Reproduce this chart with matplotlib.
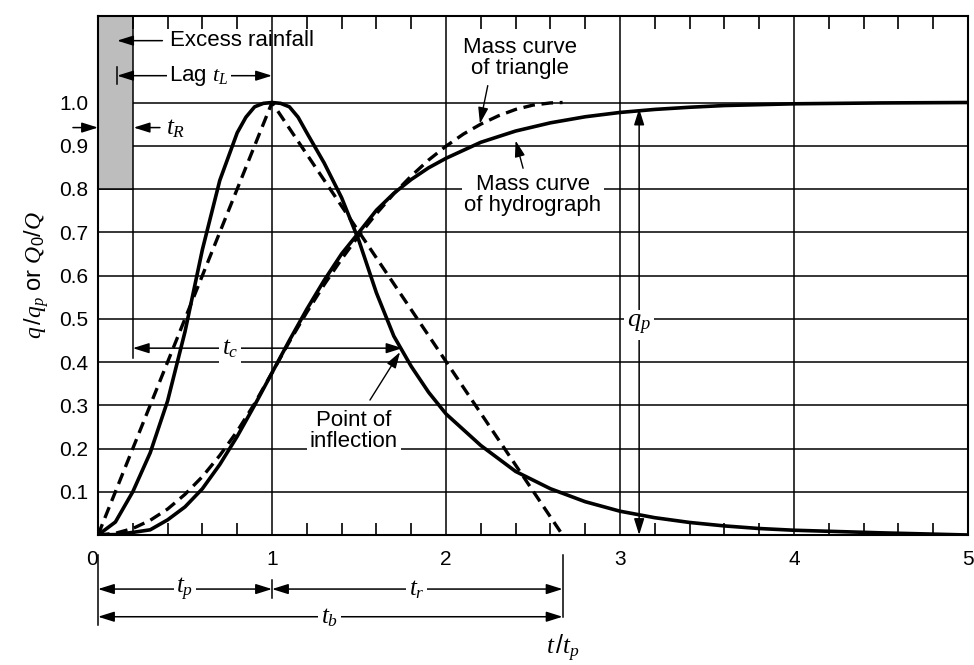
import matplotlib.pyplot as plt
import matplotlib.patches as mpatches

plt.rcParams['font.family'] = ['Liberation Sans', 'DejaVu Sans']
plt.rcParams['mathtext.fontset'] = 'custom'
plt.rcParams['mathtext.it'] = 'Liberation Serif:italic'
plt.rcParams['mathtext.rm'] = 'Liberation Sans'

# dimensionless unit hydrograph (t/tp, q/qp) and its mass curve
t_hyd = [0, 0.1, 0.2, 0.3, 0.4, 0.5, 0.6, 0.7, 0.8, 0.85, 0.9, 0.95, 1.0,
         1.05, 1.1, 1.15, 1.2, 1.3, 1.4, 1.5, 1.6, 1.7, 1.8, 1.9, 2.0, 2.2,
         2.4, 2.6, 2.8, 3.0, 3.2, 3.4, 3.6, 3.8, 4.0, 4.5, 5.0]
q_hyd = [0, 0.03, 0.10, 0.19, 0.31, 0.47, 0.66, 0.82, 0.93, 0.966, 0.99,
         0.998, 1.00, 0.998, 0.99, 0.966, 0.93, 0.86, 0.78, 0.68, 0.56, 0.46,
         0.39, 0.33, 0.28, 0.207, 0.147, 0.107, 0.077, 0.055, 0.040, 0.029,
         0.021, 0.015, 0.011, 0.005, 0.0]
t_mass = [0, 0.1, 0.2, 0.3, 0.4, 0.5, 0.6, 0.7, 0.8, 0.9, 1.0, 1.1, 1.2,
          1.3, 1.4, 1.5, 1.6, 1.7, 1.8, 1.9, 2.0, 2.2, 2.4, 2.6, 2.8, 3.0,
          3.2, 3.4, 3.6, 3.8, 4.0, 4.5, 5.0]
mass_hyd = [0, 0.001, 0.006, 0.012, 0.035, 0.065, 0.107, 0.163, 0.228,
            0.300, 0.375, 0.450, 0.522, 0.589, 0.650, 0.700, 0.751, 0.790,
            0.822, 0.849, 0.871, 0.908, 0.934, 0.953, 0.967, 0.977, 0.984,
            0.989, 0.993, 0.995, 0.997, 0.999, 1.000]

# triangular approximation and its mass curve
t_tri = [0, 1.0, 2.67]
q_tri = [0, 1.0, 0]
t_tri_mass = [0, 0.1, 0.2, 0.3, 0.4, 0.5, 0.6, 0.7, 0.8, 0.9, 1.0, 1.1, 1.2,
              1.3, 1.4, 1.5, 1.6, 1.7, 1.8, 1.9, 2.0, 2.1, 2.2, 2.3, 2.4,
              2.5, 2.6, 2.67]
mass_tri = [0, 0.004, 0.015, 0.034, 0.060, 0.094, 0.135, 0.184, 0.240,
            0.304, 0.375, 0.447, 0.515, 0.579, 0.638, 0.693, 0.743, 0.789,
            0.830, 0.867, 0.899, 0.927, 0.950, 0.969, 0.984, 0.994, 0.999,
            1.000]

x_ticks = [0, 1, 2, 3, 4, 5]
y_ticks = [0.1, 0.2, 0.3, 0.4, 0.5, 0.6, 0.7, 0.8, 0.9, 1.0]
x_minor = [i / 5 for i in range(26) if i % 5 != 0]

fig = plt.figure(figsize=(9.74, 6.65), dpi=100)
ax = fig.add_axes([98 / 974, 1 - 535 / 665, 870 / 974, 519 / 665])
ax.set_xlim(0, 5)
ax.set_ylim(0, 1.2)

for y in y_ticks:
    ax.axhline(y, color='k', lw=1.1, zorder=1)
for x in x_ticks[1:-1]:
    ax.axvline(x, color='k', lw=1.1, zorder=1)

# excess rainfall block
ax.add_patch(mpatches.Rectangle((0, 0.8), 0.2, 0.4, facecolor='#bdbdbd',
                                edgecolor='k', lw=1.1, zorder=1.5))
ax.plot([0.2, 0.2], [0.41, 0.8], color='k', lw=1.1, zorder=1)

ax.plot(t_hyd, q_hyd, color='k', lw=2.6, zorder=6)
ax.plot(t_mass, mass_hyd, color='k', lw=2.6, zorder=6)
ax.plot(t_tri, q_tri, color='k', lw=2.4, dashes=(3.5, 2), zorder=6)
ax.plot(t_tri_mass, mass_tri, color='k', lw=2.4, dashes=(3.5, 2), zorder=6)

ax.set_xticks(x_ticks)
ax.set_xticklabels([str(v) for v in x_ticks])
ax.get_xticklabels()[0].set_horizontalalignment('right')
ax.set_xticks(x_minor, minor=True)
ax.set_yticks(y_ticks)
ax.set_yticklabels(['%.1f' % v for v in y_ticks])
ax.tick_params(axis='both', which='major', length=0, labelsize=15)
ax.tick_params(axis='x', which='major', pad=11)
ax.tick_params(axis='y', which='major', pad=7)
ax.tick_params(axis='x', which='minor', direction='in', length=9, width=1.2,
               top=True, bottom=True)
for s in ax.spines.values():
    s.set_linewidth(1.5)

ax.set_ylabel(r'$q\,/q_p$ or $Q_0/Q$', fontsize=17, labelpad=6)


def arrow(x0, y0, x1, y1, style='-|>', lw=1.1):
    ax.annotate('', xy=(x1, y1), xytext=(x0, y0), annotation_clip=False,
                arrowprops=dict(arrowstyle=style + ',head_length=0.7,head_width=0.22',
                                color='k', lw=lw, shrinkA=0, shrinkB=0,
                                mutation_scale=14), zorder=4)


def label(x, y, s, size=16, ha='center', box=True):
    kw = dict(facecolor='white', edgecolor='none', pad=2) if box else None
    ax.text(x, y, s, fontsize=size, ha=ha, va='center', bbox=kw, zorder=5,
            linespacing=1.0, clip_on=False)


# top annotations
arrow(0.37, 1.143, 0.11, 1.143)
label(0.414, 1.143, 'Excess rainfall', ha='left', box=False)
arrow(0.11, 1.062, 1.0, 1.062, style='<|-|>')
ax.plot([0.11, 0.11], [1.043, 1.083], color='k', lw=1.1)
label(0.58, 1.062, r'Lag $t_L$')
arrow(-0.144, 0.942, 0.0, 0.942)
arrow(0.356, 0.942, 0.205, 0.942)
label(0.39, 0.942, r'$t_R$', size=18, ha='left', box=False)

label(2.425, 1.104, 'Mass curve\nof triangle', box=False)
arrow(2.24, 1.039, 2.195, 0.951, lw=1.0)
label(2.50, 0.785, 'Mass curve\nof hydrograph')
arrow(2.443, 0.848, 2.40, 0.912, lw=1.0)

# t_c and inflection point
arrow(0.2, 0.432, 1.75, 0.432, style='<|-|>')
label(0.76, 0.432, r'$t_c$', size=18)
label(1.47, 0.24, 'Point of\ninflection')
arrow(1.563, 0.312, 1.736, 0.423, lw=1.0)

# q_p
arrow(3.11, 0.0, 3.11, 0.986, style='<|-|>')
label(3.11, 0.485, r'$q_p$', size=19)

# time bars below the axis
for xs, y0, y1 in [(0, -0.046, -0.208), (2.67, -0.046, -0.19),
                   (1.0, -0.104, -0.145)]:
    ax.plot([xs, xs], [y0, y1], color='k', lw=1.1, clip_on=False)
arrow(0.0, -0.125, 1.0, -0.125, style='<|-|>')
arrow(1.0, -0.125, 2.67, -0.125, style='<|-|>')
arrow(0.0, -0.189, 2.67, -0.189, style='<|-|>')
label(0.5, -0.125, r'$t_p$', size=18)
label(1.83, -0.125, r'$t_r$', size=18)
label(1.33, -0.189, r'$t_b$', size=18)
label(2.67, -0.262, r'$t\,/t_p$', size=18, box=False)

fig.savefig('out.png', dpi=100)
